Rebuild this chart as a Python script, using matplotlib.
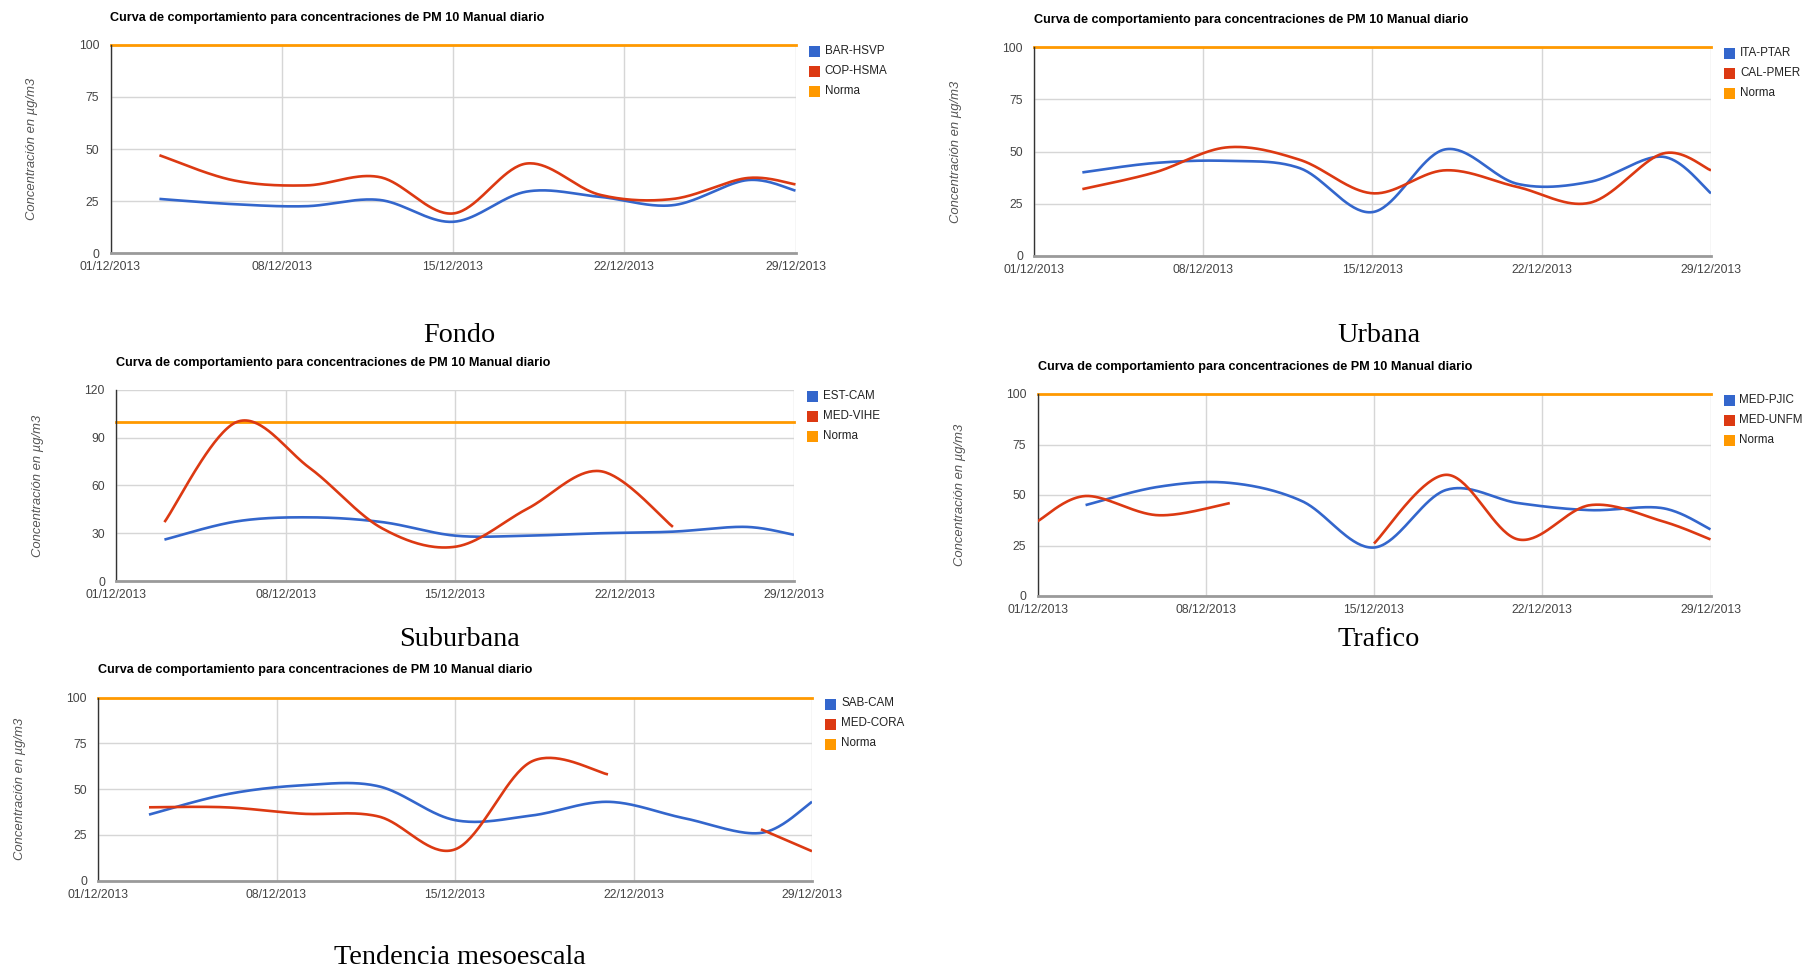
import numpy as np
import matplotlib
matplotlib.use("Agg")
import matplotlib.pyplot as plt
from matplotlib.patches import Rectangle

# ---------------- data ----------------
TITLE = "Curva de comportamiento para concentraciones de PM 10 Manual diario"
YLABEL = "Concentración en µg/m3"
X_TICK_DAYS = [1, 8, 15, 22, 29]
X_TICK_LABELS = ["01/12/2013", "08/12/2013", "15/12/2013", "22/12/2013", "29/12/2013"]
NORMA = 100

# Fondo
fondo_days = [3, 6, 9, 12, 15, 18, 21, 24, 27, 29]
fondo_bar_hsvp = [26, 23.5, 22.5, 25.5, 15, 29.5, 27, 23, 35, 30]
fondo_cop_hsma = [47, 35, 32.5, 36.5, 19, 43, 28, 26, 36, 33]

# Urbana
urbana_days = [3, 6, 9, 12, 15, 18, 21, 24, 27, 29]
urbana_ita_ptar = [40, 44.5, 45.5, 42, 21, 51, 34.5, 35.5, 47.5, 30]
urbana_cal_pmer = [32, 40, 52, 46, 30, 41, 33, 25.5, 49, 41]

# Suburbana
suburbana_days = [3, 6, 9, 12, 15, 18, 21, 24, 27, 29]
suburbana_est_cam = [26, 37.5, 40, 37, 28.5, 28.5, 30, 31, 34, 29]
suburbana_med_vihe = [37, 100, 71, 33, 21.5, 45.5, 69, 34, np.nan, np.nan]

# Trafico
trafico_days = [1, 3, 6, 9, 12, 15, 18, 21, 24, 27, 29]
trafico_med_pjic = [np.nan, 45, 54, 56, 47, 24, 52.5, 46, 42.5, 43.5, 33]
trafico_med_unfm = [37, 49.5, 40, 46, np.nan, 26, 60, 28, 45, 37, 28]

# Tendencia mesoescala
tendencia_days = [3, 6, 9, 12, 15, 18, 21, 24, 27, 29]
tendencia_sab_cam = [36, 47, 52, 51.5, 33, 35.5, 43, 34, 26, 43]
tendencia_med_cora = [40, 40, 36.5, 35, 17, 65, 58, np.nan, 28, 16]

# ---------------- style ----------------
BLUE, RED, ORANGE = "#3366CC", "#DC3912", "#FF9900"
W, H = 1805, 968
fig = plt.figure(figsize=(W / 100, H / 100), dpi=100)
fig.patch.set_facecolor("white")
SANS = ["Liberation Sans", "DejaVu Sans"]
SERIF = ["Liberation Serif", "DejaVu Serif"]


def smooth(x, y, n=40):
    """Catmull-Rom style smoothing for each contiguous non-NaN run."""
    x = np.asarray(x, float)
    y = np.asarray(y, float)
    ok = ~np.isnan(y)
    xs, ys = [], []
    i = 0
    while i < len(y):
        if not ok[i]:
            i += 1
            continue
        j = i
        while j < len(y) and ok[j]:
            j += 1
        P = np.column_stack([x[i:j], y[i:j]])
        m = len(P)
        if m == 1:
            xs += [P[0, 0]]
            ys += [P[0, 1]]
        for k in range(m - 1):
            p0 = P[k - 1] if k > 0 else P[k]
            p3 = P[k + 2] if k + 2 < m else P[k + 1]
            c1 = P[k] + (P[k + 1] - p0) / 6.0
            c2 = P[k + 1] - (p3 - P[k]) / 6.0
            t = np.linspace(0, 1, n)[:, None]
            B = ((1 - t) ** 3) * P[k] + 3 * ((1 - t) ** 2) * t * c1 + 3 * (1 - t) * t ** 2 * c2 + t ** 3 * P[k + 1]
            xs += list(B[:, 0])
            ys += list(B[:, 1])
        xs.append(np.nan)
        ys.append(np.nan)
        i = j
    return np.array(xs), np.array(ys)


def panel(rect, days, series, names, ymax, yticks, caption, cap_xy):
    l, t, r, b = rect
    ax = fig.add_axes([l / W, 1 - b / H, (r - l) / W, (b - t) / H])
    ax.set_xlim(1, 29)
    ax.set_ylim(0, ymax)
    ax.set_xticks(X_TICK_DAYS)
    ax.set_xticklabels(X_TICK_LABELS)
    ax.set_yticks(yticks)
    ax.set_yticklabels([str(v) for v in yticks])
    ax.tick_params(length=0, labelsize=8.7, labelcolor="#444444")
    ax.tick_params(axis="y", pad=8)
    ax.tick_params(axis="x", pad=6)
    for lab in ax.get_xticklabels() + ax.get_yticklabels():
        lab.set_family(SANS)
    ax.grid(True, color="#d6d6d6", lw=1.0)
    ax.set_axisbelow(True)
    for s in ["top", "right"]:
        ax.spines[s].set_visible(False)
    ax.spines["left"].set_color("#333333")
    ax.spines["left"].set_linewidth(1.0)
    ax.spines["bottom"].set_color("#9a9a9a")
    ax.spines["bottom"].set_linewidth(2.0)
    colors = [BLUE, RED]
    for vals, c in zip(series, colors):
        sx, sy = smooth(days, vals)
        ax.plot(sx, sy, color=c, lw=1.9, solid_capstyle="butt", zorder=3)
    ax.axhline(NORMA, color=ORANGE, lw=2.0, zorder=2, clip_on=False)
    # title
    fig.text(l / W, 1 - (t - 27) / H, TITLE, fontsize=9.1, fontweight="bold",
             family=SANS, color="#000000", ha="left", va="center")
    # y label
    fig.text((l - 78) / W, 1 - ((t + b) / 2) / H, YLABEL, rotation=90, fontsize=9.4,
             style="italic", family=SANS, color="#555555", ha="center", va="center")
    # legend
    lx = r + 13
    for k, (nm, c) in enumerate(zip(names, [BLUE, RED, ORANGE])):
        cy = t + 6 + k * 20
        fig.add_artist(Rectangle(((lx) / W, 1 - (cy + 6) / H), 11 / W, 11 / H,
                                 transform=fig.transFigure, color=c, lw=0))
        fig.text((lx + 16) / W, 1 - cy / H, nm, fontsize=8.4, family=SANS,
                 color="#222222", ha="left", va="center")
    # caption
    fig.text(cap_xy[0] / W, 1 - cap_xy[1] / H, caption, fontsize=20.3, family=SERIF,
             color="#000000", ha="center", va="baseline")
    return ax


panel((110.5, 45, 795.5, 253), fondo_days, [fondo_bar_hsvp, fondo_cop_hsma],
      ["BAR-HSVP", "COP-HSMA", "Norma"], 100, [0, 25, 50, 75, 100], "Fondo", (459.5, 342.5))
panel((1034, 47, 1711, 256), urbana_days, [urbana_ita_ptar, urbana_cal_pmer],
      ["ITA-PTAR", "CAL-PMER", "Norma"], 100, [0, 25, 50, 75, 100], "Urbana", (1378.5, 342.5))
panel((116, 390, 794, 581), suburbana_days, [suburbana_est_cam, suburbana_med_vihe],
      ["EST-CAM", "MED-VIHE", "Norma"], 120, [0, 30, 60, 90, 120], "Suburbana", (459.5, 646.5))
panel((1037.5, 394, 1710.5, 596), trafico_days, [trafico_med_pjic, trafico_med_unfm],
      ["MED-PJIC", "MED-UNFM", "Norma"], 100, [0, 25, 50, 75, 100], "Trafico", (1378.5, 646.5))
panel((98, 697.5, 812, 880.5), tendencia_days, [tendencia_sab_cam, tendencia_med_cora],
      ["SAB-CAM", "MED-CORA", "Norma"], 100, [0, 25, 50, 75, 100], "Tendencia mesoescala", (459.5, 964))

fig.savefig("out.png", dpi=100, facecolor="white")
